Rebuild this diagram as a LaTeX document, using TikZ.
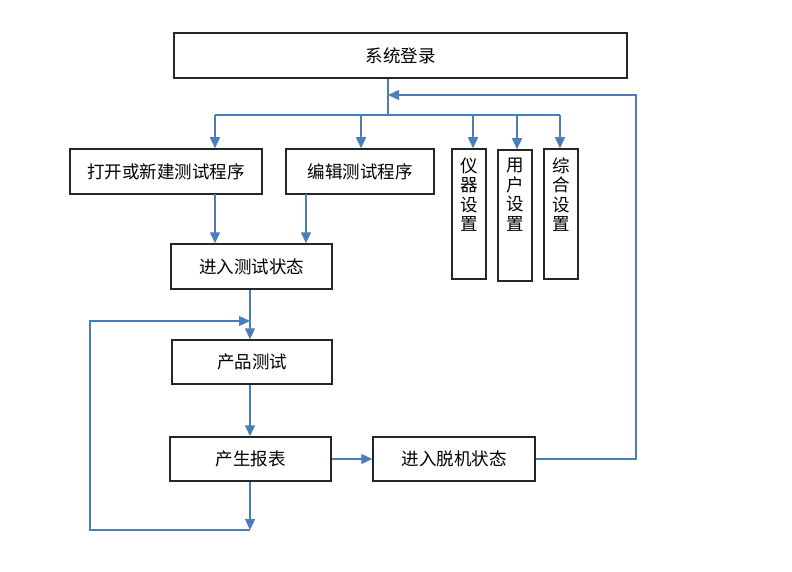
\documentclass[tikz,border=0pt]{standalone}
\usepackage{fontspec}
\newfontfamily\cjk{Noto Sans CJK SC}
\usetikzlibrary{arrows.meta}
\definecolor{lineblue}{HTML}{4A7EBB}
\definecolor{boxline}{HTML}{262626}
\tikzset{
  box/.style={draw=boxline, line width=1.5pt, rectangle, inner sep=0pt,
    font=\cjk\fontsize{17.5}{19.5}\selectfont, text=black},
  vtext/.style={inner sep=0pt, align=center, anchor=north,
    font=\cjk\fontsize{17.5}{19.5}\selectfont, text=black},
  conn/.style={draw=lineblue, line width=1.3pt},
  arr/.style={conn, -{Triangle[width=10pt,length=11pt]}}
}
\begin{document}
\begin{tikzpicture}[x=1pt,y=-1pt]
\useasboundingbox (0,0) rectangle (792,572);
% boxes
\node[box, minimum width=453pt, minimum height=45pt] (login) at (400.5,55.5) {系统登录};
\node[box, minimum width=192pt, minimum height=45pt] (open) at (166,171.5) {打开或新建测试程序};
\node[box, minimum width=148pt, minimum height=45pt] (edit) at (360,171.5) {编辑测试程序};
\node[box, minimum width=34pt, minimum height=130pt] (instr) at (469,214) {};
\node[box, minimum width=34pt, minimum height=131pt] (user) at (515,215.5) {};
\node[box, minimum width=34pt, minimum height=130pt] (general) at (561,214) {};
\node[vtext] (instrt) at ([yshift=-9pt]instr.north) {仪\\器\\设\\置};
\node[vtext] (usert) at ([yshift=-9pt]user.north) {用\\户\\设\\置};
\node[vtext] (generalt) at ([yshift=-9pt]general.north) {综\\合\\设\\置};
\node[box, minimum width=161pt, minimum height=45pt] (enter) at (251.5,266.5) {进入测试状态};
\node[box, minimum width=160pt, minimum height=44pt] (ptest) at (252,362) {产品测试};
\node[box, minimum width=161pt, minimum height=44pt] (report) at (250.5,459) {产生报表};
\node[box, minimum width=162pt, minimum height=44pt] (offline) at (454,459) {进入脱机状态};
% coordinates
\coordinate (hub) at (388,115);
\coordinate (fb) at (388,95);
\coordinate (hl) at (215,115);
\coordinate (he) at (361,115);
\coordinate (hi) at (473,115);
\coordinate (hu) at (517,115);
\coordinate (hg) at (560,115);
\coordinate (rc) at (636,95);
\coordinate (ol) at (215,194);
\coordinate (el) at (306,194);
\coordinate (lt) at (250,321);
\coordinate (lb) at (250,530);
\coordinate (lx) at (90,530);
\coordinate (ly) at (90,321);
% connectors
\draw[conn] (login.south -| hub) -- (hub);
\draw[conn] (hl) -- (hg);
\draw[arr] (hl) -- (open.north -| hl);
\draw[arr] (he) -- (edit.north -| he);
\draw[arr] (hi) -- (instr.north -| hi);
\draw[arr] (hu) -- (user.north -| hu);
\draw[arr] (hg) -- (general.north -| hg);
\draw[arr] (ol) -- (enter.north -| ol);
\draw[arr] (el) -- (enter.north -| el);
\draw[arr] (enter.south -| lt) -- (ptest.north -| lt);
\draw[arr] (ptest.south -| lt) -- (report.north -| lt);
\draw[arr] (report.south -| lb) -- (lb);
\draw[arr] (lb) -- (lx) -- (ly) -- (lt);
\draw[arr] (report.east) -- (offline.west);
\draw[arr] (offline.east) -- (offline.east -| rc) -- (rc) -- (fb);
\end{tikzpicture}
\end{document}
